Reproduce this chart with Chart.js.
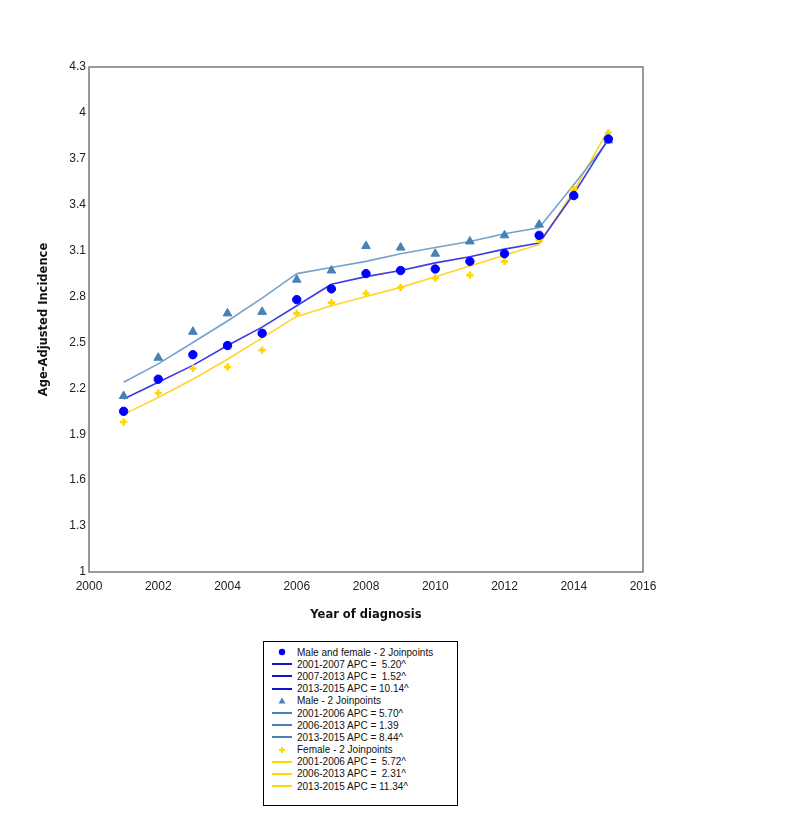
<!DOCTYPE html>
<html>
<head>
<meta charset="utf-8">
<script src="https://cdn.jsdelivr.net/npm/chart.js@4"></script>
<style>
  html, body { margin: 0; padding: 0; background: #fff; }
  #wrap { position: relative; width: 800px; height: 827px; }
  #legend {
    position: absolute; left: 263px; top: 641px; width: 193px; height: 159px;
    border: 1px solid #000; background: #fff; box-sizing: content-box;
    font-family: 'Liberation Sans', Arial, sans-serif; font-size: 10px; color: #111;
    padding-top: 4px;
  }
  .row { display: flex; align-items: center; height: 12.2px; white-space: pre; }
  .row svg { margin-left: 8px; margin-right: 5px; flex: none; }
</style>
</head>
<body>
<div id="wrap">
  <canvas id="c" width="800" height="827"></canvas>
  <div id="legend"></div>
</div>
<script>
// ---- data ----
const years = [2001, 2002, 2003, 2004, 2005, 2006, 2007, 2008, 2009, 2010, 2011, 2012, 2013, 2014, 2015];

const combinedObs = [2.05, 2.26, 2.42, 2.48, 2.56, 2.78, 2.85, 2.95, 2.97, 2.98, 3.03, 3.08, 3.20, 3.46, 3.83];
const maleObs     = [2.15, 2.40, 2.57, 2.69, 2.70, 2.91, 2.97, 3.13, 3.12, 3.08, 3.16, 3.20, 3.27, 3.46, 3.82];
const femaleObs   = [1.98, 2.17, 2.33, 2.34, 2.45, 2.69, 2.76, 2.82, 2.86, 2.92, 2.94, 3.03, 3.17, 3.50, 3.87];

const combinedFit = [2.13, 2.24, 2.35, 2.48, 2.60, 2.74, 2.88, 2.93, 2.97, 3.02, 3.06, 3.11, 3.15, 3.47, 3.83];
const maleFit     = [2.24, 2.36, 2.50, 2.64, 2.79, 2.95, 2.99, 3.03, 3.08, 3.12, 3.16, 3.21, 3.25, 3.53, 3.82];
const femaleFit   = [2.03, 2.14, 2.26, 2.39, 2.53, 2.67, 2.74, 2.80, 2.86, 2.93, 3.00, 3.07, 3.14, 3.49, 3.89];

const combinedSegments = [[2001, 2007], [2007, 2013], [2013, 2015]];
const maleSegments     = [[2001, 2006], [2006, 2013], [2013, 2015]];
const femaleSegments   = [[2001, 2006], [2006, 2013], [2013, 2015]];

const combinedApc = ['2001-2007 APC =  5.20^', '2007-2013 APC =  1.52^', '2013-2015 APC = 10.14^'];
const maleApc     = ['2001-2006 APC = 5.70^', '2006-2013 APC = 1.39', '2013-2015 APC = 8.44^'];
const femaleApc   = ['2001-2006 APC =  5.72^', '2006-2013 APC =  2.31^', '2013-2015 APC = 11.34^'];

const groupNames = ['Male and female - 2 Joinpoints', 'Male - 2 Joinpoints', 'Female - 2 Joinpoints'];

const yTicks = [1, 1.3, 1.6, 1.9, 2.2, 2.5, 2.8, 3.1, 3.4, 3.7, 4, 4.3];
const xTicks = [2000, 2002, 2004, 2006, 2008, 2010, 2012, 2014, 2016];

// ---- build datasets ----
const groups = [
  { name: groupNames[0], obs: combinedObs, fit: combinedFit, segs: combinedSegments, apc: combinedApc,
    pointColor: '#0000ff', lineColor: '#3a3ae6', legendLine: '#1414c8', style: 'circle', radius: 4.2, bw: 1 },
  { name: groupNames[1], obs: maleObs, fit: maleFit, segs: maleSegments, apc: maleApc,
    pointColor: '#4682b4', lineColor: '#74a2cc', legendLine: '#4682b4', style: 'triangle', radius: 5, bw: 1 },
  { name: groupNames[2], obs: femaleObs, fit: femaleFit, segs: femaleSegments, apc: femaleApc,
    pointColor: '#ffd700', lineColor: '#ffd52a', legendLine: '#ffd700', style: 'cross', radius: 3.6, bw: 2.6 }
];

const datasets = [];
groups.forEach(g => {
  datasets.push({
    label: g.name, kind: 'point',
    data: years.map((y, i) => ({ x: y, y: g.obs[i] })),
    showLine: false, pointStyle: g.style, pointRadius: g.radius, pointHoverRadius: g.radius,
    backgroundColor: g.pointColor, borderColor: g.pointColor, borderWidth: g.bw, order: 0
  });
  g.segs.forEach((s, k) => {
    datasets.push({
      label: g.apc[k], kind: 'line', legendColor: g.legendLine,
      data: years.map((y, i) => ({ x: y, y: g.fit[i] })).filter(p => p.x >= s[0] && p.x <= s[1]),
      showLine: true, pointRadius: 0, borderColor: g.lineColor, borderWidth: 1.6,
      backgroundColor: g.lineColor, tension: 0, fill: false, order: 1
    });
  });
});

const frame = {
  id: 'frame',
  afterDatasetsDraw(chart) {
    const a = chart.chartArea, ctx = chart.ctx;
    ctx.save();
    ctx.strokeStyle = '#7a7a7a';
    ctx.lineWidth = 1.5;
    ctx.strokeRect(a.left, a.top, a.right - a.left, a.bottom - a.top);
    ctx.restore();
  }
};

const tickFont = { family: "'Liberation Sans', Arial, sans-serif", size: 12 };
const titleFont = { family: "'DejaVu Sans', Verdana, sans-serif", size: 11.5, weight: 'bold' };

const chart = new Chart(document.getElementById('c'), {
  type: 'scatter',
  data: { datasets },
  options: {
    responsive: false, animation: false, devicePixelRatio: 1,
    layout: { padding: { left: 0, top: 67, right: 157, bottom: 0 } },
    plugins: { legend: { display: false }, tooltip: { enabled: false } },
    scales: {
      x: {
        type: 'linear', min: 2000, max: 2016,
        grid: { display: false, drawTicks: false },
        border: { display: false },
        afterBuildTicks: s => { s.ticks = xTicks.map(v => ({ value: v })); },
        afterFit: s => { s.height = 255; },
        ticks: { color: '#222', font: tickFont, padding: 7, maxRotation: 0, autoSkip: false,
                 callback: v => String(v) },
        title: { display: true, text: 'Year of diagnosis', color: '#111', font: titleFont,
                 padding: { top: 0, bottom: 205 } }
      },
      y: {
        type: 'linear', min: 1, max: 4.3,
        grid: { display: false, drawTicks: false },
        border: { display: false },
        afterBuildTicks: s => { s.ticks = yTicks.map(v => ({ value: v })); },
        afterFit: s => { s.width = 89; },
        ticks: { color: '#222', font: tickFont, padding: 3, autoSkip: false,
                 callback: v => String(v) },
        title: { display: true, text: 'Age-Adjusted Incidence', color: '#111', font: titleFont,
                 padding: { top: 37, bottom: 0 } }
      }
    }
  },
  plugins: [frame]
});

// ---- HTML legend built from the datasets ----
const legend = document.getElementById('legend');
chart.data.datasets.forEach(ds => {
  const row = document.createElement('div');
  row.className = 'row';
  let svg;
  if (ds.kind === 'line') {
    svg = `<svg width="20" height="10"><line x1="0" y1="5" x2="20" y2="5" stroke="${ds.legendColor}" stroke-width="2"/></svg>`;
  } else if (ds.pointStyle === 'circle') {
    svg = `<svg width="20" height="10"><circle cx="10" cy="5" r="3.2" fill="${ds.backgroundColor}"/></svg>`;
  } else if (ds.pointStyle === 'triangle') {
    svg = `<svg width="20" height="10"><polygon points="10,1.5 13.5,7.5 6.5,7.5" fill="${ds.backgroundColor}"/></svg>`;
  } else {
    svg = `<svg width="20" height="10"><line x1="7" y1="5" x2="13" y2="5" stroke="${ds.backgroundColor}" stroke-width="2"/><line x1="10" y1="2" x2="10" y2="8" stroke="${ds.backgroundColor}" stroke-width="2"/></svg>`;
  }
  row.innerHTML = svg + '<span></span>';
  row.querySelector('span').textContent = ds.label;
  legend.appendChild(row);
});
</script>
</body>
</html>
